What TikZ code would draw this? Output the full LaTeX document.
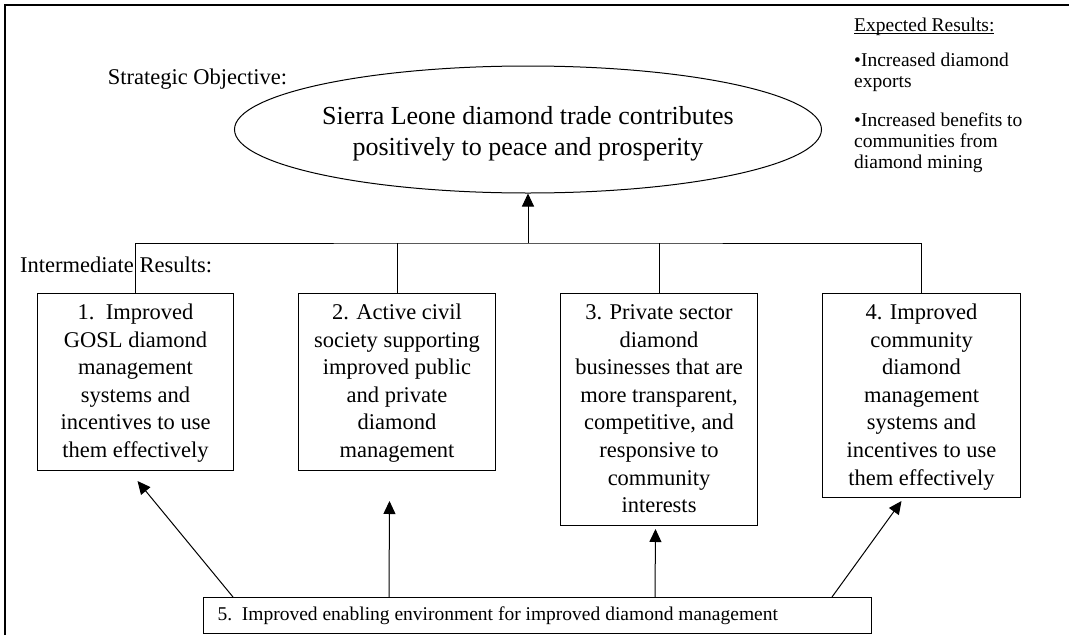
\documentclass[tikz,border=0pt]{standalone}
\usepackage{fontspec}
\setmainfont{Liberation Serif}
\usetikzlibrary{shapes.geometric,arrows.meta}
\newcommand\mybox[3]{\parbox[c][#2pt][t]{#1pt}{\centering\fontsize{22.5}{27.6}\selectfont\rule{0pt}{26pt}#3}}
\newcommand\myul[1]{\setbox0\hbox{#1}\rlap{\rule[-2pt]{\wd0}{0.9pt}}\box0}
\begin{document}
\begin{tikzpicture}[x=1pt,y=-1pt,
  box/.style={draw,line width=1pt,inner sep=0pt,anchor=north west},
  arr/.style={-{Triangle[length=13pt,width=12pt]},line width=1pt},
  ln/.style={line width=1pt}]
\useasboundingbox (0,0) rectangle (1069,635);
\draw[line width=2pt] (5,635) -- (5,5) -- (1069,5);

% labels
\node[font=\fontsize{22.5}{27}\selectfont,inner sep=0pt,anchor=base] (so) at (197.5,84) {Strategic Objective:};
\node[font=\fontsize{22.5}{27}\selectfont,inner sep=0pt,anchor=base west] (ir) at (20,272) {Intermediate Results:};
\node[font=\fontsize{19.5}{21}\selectfont,inner sep=0pt,anchor=north west,align=left] (er) at (854,18)
  {\myul{Expected Results:}\\[14pt]•Increased diamond\\exports\\[18pt]•Increased benefits to\\communities from\\diamond mining};

% objective
\node[ellipse,draw,line width=1pt,minimum width=587pt,minimum height=127pt,inner sep=0pt] (obj) at (528,129.5)
  {\parbox{413pt}{\centering\fontsize{26}{31}\selectfont\vspace*{8pt}Sierra Leone diamond trade contributes\\positively to peace and prosperity}};

% intermediate results
\node[box] (b1) at (37,293) {\mybox{196}{177}{1.\ \ Improved\\GOSL diamond\\management\\systems and\\incentives to use\\them effectively}};
\node[box] (b2) at (298,293) {\mybox{197}{177}{2. Active civil\\society supporting\\improved public\\and private\\diamond\\management}};
\node[box] (b3) at (560,293) {\mybox{197}{232}{3. Private sector\\diamond\\businesses that are\\more transparent,\\competitive, and\\responsive to\\community\\interests}};
\node[box] (b4) at (822,293) {\mybox{198}{204}{4. Improved\\community\\diamond\\management\\systems and\\incentives to use\\them effectively}};
\node[box] (b5) at (203,597) {\parbox[c][36pt][c]{668pt}{\hspace*{14pt}\fontsize{19.5}{22}\selectfont 5.\ \ Improved enabling environment for improved diamond management}};

% tree connectors
\coordinate (bar) at (528,243);
\draw[ln] (b1.north) |- (bar) -| (b4.north);
\draw[ln] (b2.north) -- (b2.north |- bar);
\draw[ln] (b3.north) -- (b3.north |- bar);
\draw[arr] (bar) -- (obj.south);

% enabling environment arrows
\draw[arr] ([xshift=30pt]b5.north west) -- ([xshift=2pt,yshift=-10pt]b1.south);
\draw[arr] ([xshift=186pt]b5.north west) -- ([xshift=-7.5pt,yshift=-30pt]b2.south);
\draw[arr] ([xshift=452pt]b5.north west) -- ([xshift=-3.5pt,yshift=-3pt]b3.south);
\draw[arr] ([xshift=629pt]b5.north west) -- ([xshift=-20pt,yshift=-3pt]b4.south);
\end{tikzpicture}
\end{document}
